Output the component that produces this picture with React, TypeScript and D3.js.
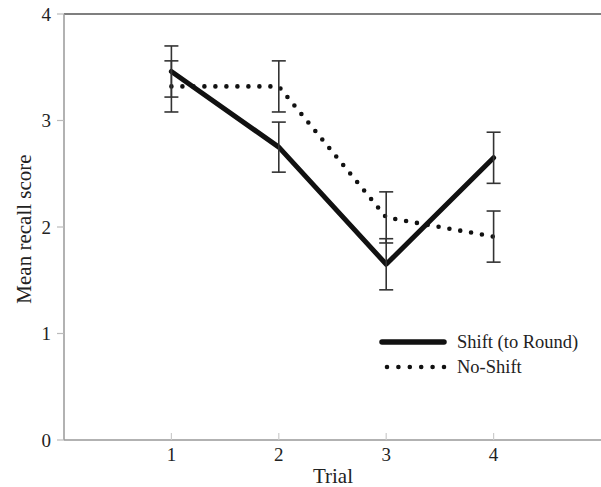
import React from "react";
import * as d3 from "d3";

const trials = [1, 2, 3, 4];
const shiftMeans = [3.46, 2.75, 1.65, 2.65];
const shiftErr = [0.24, 0.235, 0.24, 0.24];
const noShiftMeans = [3.32, 3.32, 2.09, 1.91];
const noShiftErr = [0.24, 0.24, 0.24, 0.24];
const yTicks = [0, 1, 2, 3, 4];

const W = 601;
const H = 487;
const FONT = "'Liberation Serif', 'Times New Roman', serif";

export default function App() {
  const x = d3.scaleLinear().domain([0, 5]).range([64, 601]);
  const y = d3.scaleLinear().domain([0, 4]).range([440, 14]);

  const line = d3
    .line<number>()
    .x((_, i) => x(trials[i]))
    .y((d) => y(d));

  const series = [
    { name: "Shift (to Round)", means: shiftMeans, err: shiftErr, dotted: false },
    { name: "No-Shift", means: noShiftMeans, err: noShiftErr, dotted: true },
  ];

  const cap = 7;

  return (
    <div style={{ position: "fixed", left: 0, top: 0 }}>
      <svg width={W} height={H} style={{ display: "block", background: "#fff" }}>
        {/* frame */}
        <line x1={x(0)} x2={W} y1={y(4)} y2={y(4)} stroke="#555" strokeWidth={1.5} />
        <line x1={x(0)} x2={x(0)} y1={y(4)} y2={y(0)} stroke="#999" strokeWidth={1.5} />
        <line x1={x(0)} x2={W} y1={y(0)} y2={y(0)} stroke="#999" strokeWidth={1.5} />

        {/* y ticks */}
        {yTicks.map((t) => (
          <g key={t}>
            <line x1={x(0) - 7} x2={x(0)} y1={y(t)} y2={y(t)} stroke="#bbb" strokeWidth={1.2} />
            <text
              x={51}
              y={y(t)}
              dy="0.35em"
              textAnchor="end"
              fontFamily={FONT}
              fontSize={19}
              fill="#222"
            >
              {t}
            </text>
          </g>
        ))}

        {/* x ticks */}
        {trials.map((t) => (
          <g key={t}>
            <line x1={x(t)} x2={x(t)} y1={y(0) - 7} y2={y(0)} stroke="#ccc" strokeWidth={1.2} />
            <text x={x(t)} y={461} textAnchor="middle" fontFamily={FONT} fontSize={19} fill="#222">
              {t}
            </text>
          </g>
        ))}

        <text x={333} y={483} textAnchor="middle" fontFamily={FONT} fontSize={21} fill="#222">
          Trial
        </text>
        <text
          transform={`translate(31, 229) rotate(-90)`}
          textAnchor="middle"
          fontFamily={FONT}
          fontSize={21}
          fill="#222"
        >
          Mean recall score
        </text>

        {/* lines */}
        {series.map((s) => (
          <path
            key={s.name}
            d={line(s.means) ?? ""}
            fill="none"
            stroke="#111"
            strokeWidth={s.dotted ? 4.6 : 5}
            strokeLinecap="round"
            strokeLinejoin="round"
            strokeDasharray={s.dotted ? "0 11" : undefined}
          />
        ))}

        {/* error bars */}
        {series.map((s) =>
          s.means.map((m, i) => {
            const cx = x(trials[i]);
            const top = y(m + s.err[i]);
            const bot = y(m - s.err[i]);
            return (
              <g key={s.name + i} stroke="#333" strokeWidth={1.6}>
                <line x1={cx} x2={cx} y1={top} y2={bot} />
                <line x1={cx - cap} x2={cx + cap} y1={top} y2={top} />
                <line x1={cx - cap} x2={cx + cap} y1={bot} y2={bot} />
              </g>
            );
          })
        )}

        {/* legend */}
        {series.map((s, i) => {
          const ly = 342 + i * 25;
          return (
            <g key={s.name}>
              <line
                x1={s.dotted ? 387 : 382}
                x2={444}
                y1={ly}
                y2={ly}
                stroke="#111"
                strokeWidth={s.dotted ? 4.6 : 5.5}
                strokeLinecap="round"
                strokeDasharray={s.dotted ? "0 11.4" : undefined}
              />
              <text x={457} y={ly} dy="0.35em" fontFamily={FONT} fontSize={18.5} fill="#222">
                {s.name}
              </text>
            </g>
          );
        })}
      </svg>
    </div>
  );
}
